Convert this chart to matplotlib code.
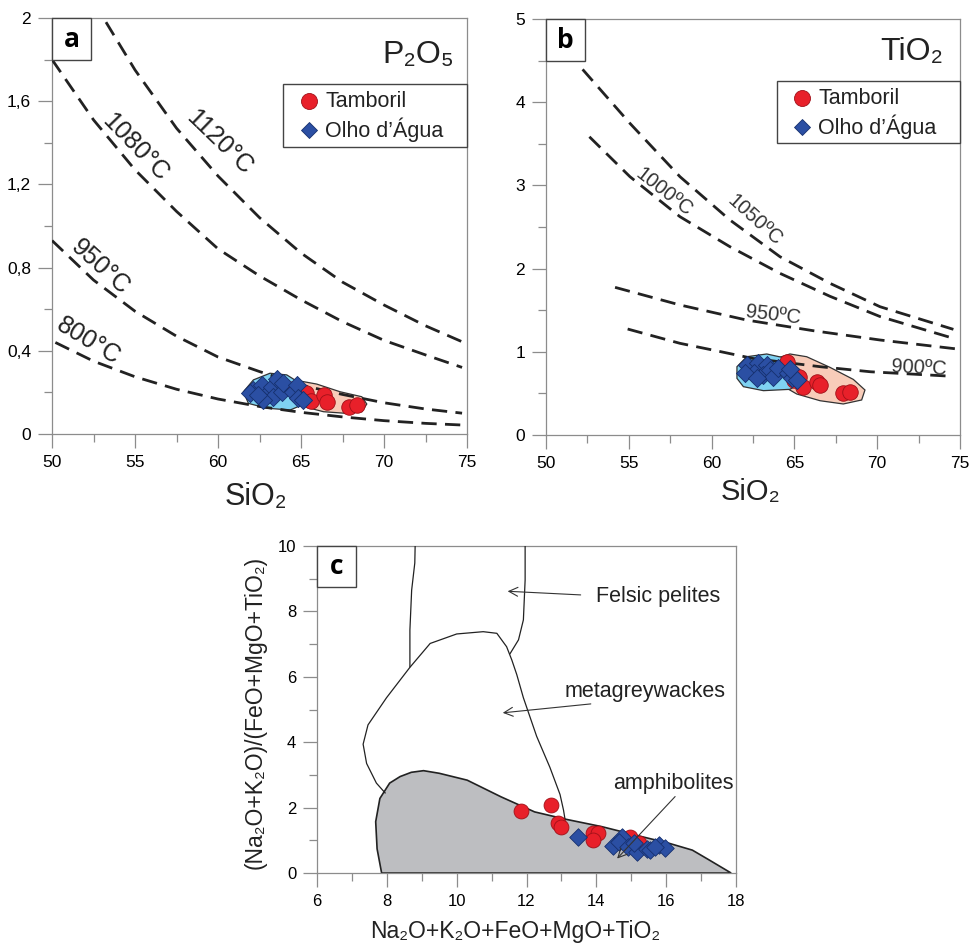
import matplotlib.pyplot as plt
from matplotlib.patches import Polygon, Rectangle
from matplotlib.lines import Line2D

plt.rcParams['font.family'] = ['Liberation Sans', 'DejaVu Sans']

# ---- panel a: P2O5 saturation isotherms ----
a_1120_x = [53.25, 55, 57.5, 60, 62.5, 65, 67.5, 70, 72.5, 74.8]
a_1120_y = [1.98, 1.75, 1.47, 1.24, 1.04, 0.87, 0.73, 0.62, 0.52, 0.44]
a_1080_x = [50, 52.5, 55, 57.5, 60, 62.5, 65, 67.5, 70, 72.5, 74.7]
a_1080_y = [1.80, 1.51, 1.27, 1.07, 0.89, 0.76, 0.645, 0.54, 0.45, 0.38, 0.32]
a_950_x = [50, 52.5, 55, 57.5, 60, 62.5, 65, 67.5, 70, 72.5, 74.7]
a_950_y = [0.93, 0.74, 0.59, 0.47, 0.37, 0.30, 0.235, 0.19, 0.15, 0.12, 0.10]
a_800_x = [50.2, 52.5, 55, 57.5, 60, 62.5, 65, 67.5, 70, 72.5, 74.7]
a_800_y = [0.44, 0.35, 0.275, 0.215, 0.168, 0.132, 0.104, 0.082, 0.064, 0.051, 0.043]

a_tam_x = [63.84, 64.54, 65.30, 65.58, 66.40, 66.55, 67.89, 68.35]
a_tam_y = [0.236, 0.215, 0.199, 0.160, 0.188, 0.156, 0.131, 0.138]
a_olho_x = [62.13, 62.63, 62.89, 63.23, 63.53, 63.33, 63.84, 63.94, 62.73,
            64.54, 64.74, 64.84, 65.14, 61.93, 62.43]
a_olho_y = [0.212, 0.236, 0.188, 0.228, 0.263, 0.179, 0.203, 0.244, 0.163,
            0.203, 0.236, 0.171, 0.163, 0.196, 0.188]

a_blue_field = [(61.53, 0.203), (62.13, 0.26), (63.13, 0.292), (64.14, 0.284),
                (64.94, 0.244), (65.14, 0.196), (65.04, 0.139), (64.34, 0.115),
                (62.93, 0.124), (61.83, 0.147)]
a_red_field = [(64.84, 0.256), (65.94, 0.240), (67.35, 0.203), (68.66, 0.179),
               (68.96, 0.144), (68.66, 0.107), (67.75, 0.099), (66.35, 0.107),
               (65.34, 0.128), (64.54, 0.179)]

# ---- panel b: TiO2 saturation isotherms ----
b_1050_x = [52.21, 55.07, 58.09, 61.11, 64.13, 67.15, 70.17, 74.60]
b_1050_y = [4.395, 3.746, 3.105, 2.584, 2.143, 1.823, 1.542, 1.270]
b_1000_x = [52.62, 55.07, 58.09, 61.11, 64.13, 67.15, 70.17, 74.60]
b_1000_y = [3.585, 3.105, 2.624, 2.263, 1.943, 1.667, 1.424, 1.162]
b_950_x = [54.17, 58.09, 62.11, 66.13, 70.17, 75.0]
b_950_y = [1.775, 1.563, 1.382, 1.254, 1.142, 1.030]
b_900_x = [54.93, 58.09, 60.35, 62.5, 66.6, 69.6, 74.6]
b_900_y = [1.274, 1.102, 1.01, 0.92, 0.82, 0.76, 0.705]

b_tam_x = [64.54, 65.30, 65.54, 66.38, 66.55, 67.91, 68.36, 65.0]
b_tam_y = [0.881, 0.701, 0.581, 0.641, 0.601, 0.500, 0.521, 0.661]
b_olho_x = [62.12, 62.83, 63.33, 62.53, 62.02, 63.13, 63.53, 63.73, 64.03,
            64.64, 64.84, 65.18, 64.73, 62.73]
b_olho_y = [0.841, 0.862, 0.841, 0.741, 0.741, 0.721, 0.781, 0.701, 0.801,
            0.741, 0.681, 0.661, 0.789, 0.681]

b_blue_field = [(61.53, 0.821), (62.12, 0.941), (63.33, 0.974), (64.54, 0.921),
                (65.34, 0.781), (65.34, 0.621), (64.73, 0.549), (63.13, 0.533),
                (61.92, 0.581), (61.53, 0.681)]
b_red_field = [(63.93, 0.921), (64.73, 0.974), (65.74, 0.941), (67.15, 0.813),
               (68.56, 0.668), (69.26, 0.541), (69.06, 0.421), (67.95, 0.373),
               (66.55, 0.412), (65.14, 0.493), (64.03, 0.621)]

# ---- panel c: discrimination fields ----
felsic_left = [(8.81, 10.0), (8.80, 9.48), (8.71, 8.65), (8.66, 7.43), (8.66, 6.31)]
felsic_right = [(11.96, 10.0), (11.96, 8.96), (11.91, 7.74), (11.77, 7.13), (11.53, 6.71)]
metagrey = [(7.95, 2.45), (7.70, 2.75), (7.42, 3.35), (7.32, 3.94), (7.46, 4.53),
            (7.99, 5.36), (8.66, 6.29), (9.24, 7.02), (10.0, 7.31), (10.76, 7.38),
            (11.15, 7.33), (11.43, 6.92), (11.58, 6.51), (11.72, 6.07), (11.91, 5.36),
            (12.29, 4.18), (12.67, 3.23), (12.96, 2.40), (13.06, 1.92), (13.10, 1.66)]
amphib = [(7.85, 0.0), (7.72, 0.74), (7.68, 1.57), (7.80, 2.28), (8.08, 2.75),
          (8.38, 2.95), (8.70, 3.08), (9.05, 3.13), (9.50, 3.05), (10.3, 2.84),
          (11.27, 2.33), (12.23, 1.87), (13.1, 1.65), (14.15, 1.42), (15.12, 1.16),
          (16.08, 0.91), (16.75, 0.70), (17.23, 0.40), (17.86, 0.0)]

c_tam_x = [11.84, 12.71, 12.90, 12.98, 13.91, 14.06, 13.91, 14.97, 15.21]
c_tam_y = [1.90, 2.07, 1.52, 1.40, 1.21, 1.21, 1.01, 1.11, 0.91]
c_olho_x = [13.48, 14.49, 14.73, 14.64, 14.92, 15.16, 15.45, 15.55, 15.79, 15.98,
            15.69, 15.07]
c_olho_y = [1.09, 0.83, 1.09, 0.96, 0.80, 0.65, 0.72, 0.70, 0.86, 0.76, 0.80, 0.91]

legend_labels = ['Tamboril', 'Olho d\u2019\u00c1gua']

RED = '#e8202a'
RED_E = '#a01018'
BLUE = '#2b4fa3'
BLUE_E = '#16306e'
LIGHTBLUE = '#7fd2f2'
PEACH = '#f8ccb9'
GRAY = '#8c8c8c'
DASH = (0, (5.5, 3.0))


def style_axes(ax):
    for s in ax.spines.values():
        s.set_color(GRAY)
        s.set_linewidth(0.9)
    ax.tick_params(which='major', direction='out', length=10, width=0.9,
                   color=GRAY, labelsize=12.5, pad=5)
    ax.tick_params(which='minor', direction='out', length=5.5, width=0.9,
                   color=GRAY)


def panel_box(ax, letter, w, h):
    ax.add_patch(Rectangle((0, 1 - h), w, h, transform=ax.transAxes,
                           facecolor='white', edgecolor='#444444', lw=1.0,
                           zorder=6, clip_on=False))
    ax.text(w / 2, 1 - h / 2, letter, transform=ax.transAxes, ha='center',
            va='center', fontsize=19, fontweight='bold',
            family=['Open Sans', 'DejaVu Sans'], zorder=7)


def draw_legend(ax, x0, y0, y1, mx, my):
    # framed key box in axes coordinates
    ax.add_patch(Rectangle((x0, y0), 1.0 - x0, y1 - y0, transform=ax.transAxes,
                           facecolor='white', edgecolor='#444444', lw=1.0,
                           zorder=8, clip_on=False))
    ax.plot([mx], [my[0]], transform=ax.transAxes, ls='none', marker='o', ms=11.5,
            mfc=RED, mec=RED_E, mew=0.6, zorder=9, clip_on=False)
    ax.plot([mx], [my[1]], transform=ax.transAxes, ls='none', marker='D', ms=8.5,
            mfc=BLUE, mec=BLUE_E, mew=0.6, zorder=9, clip_on=False)
    for yy, lab in zip(my, legend_labels):
        ax.text(mx + 0.039, yy, lab, transform=ax.transAxes, fontsize=15.5,
                ha='left', va='center', color='#222222', zorder=9)


fig = plt.figure(figsize=(9.71, 9.43), dpi=100)

# ================= panel a =================
ax = fig.add_axes([0.0536, 0.5398, 0.4274, 0.4411])
style_axes(ax)
ax.set_xlim(50, 75)
ax.set_ylim(0, 2)
ax.set_xticks([50, 55, 60, 65, 70, 75])
ax.set_xticks([52.5, 57.5, 62.5, 67.5, 72.5], minor=True)
ax.set_yticks([0, 0.4, 0.8, 1.2, 1.6, 2.0])
ax.set_yticklabels(['0', '0,4', '0,8', '1,2', '1,6', '2'])
ax.set_yticks([0.2, 0.6, 1.0, 1.4, 1.8], minor=True)

ax.add_patch(Polygon(a_red_field, closed=True, fc=PEACH, ec='#333333', lw=0.9, zorder=2))
ax.add_patch(Polygon(a_blue_field, closed=True, fc=LIGHTBLUE, ec='#333333', lw=0.9, zorder=2.5))
for xs, ys in [(a_1120_x, a_1120_y), (a_1080_x, a_1080_y), (a_950_x, a_950_y), (a_800_x, a_800_y)]:
    ax.plot(xs, ys, color='#222222', lw=2.0, ls=DASH, zorder=3)
ax.scatter(a_tam_x, a_tam_y, s=125, marker='o', c=RED, edgecolors=RED_E, linewidths=0.6, zorder=4)
ax.scatter(a_olho_x, a_olho_y, s=85, marker='D', c=BLUE, edgecolors=BLUE_E, linewidths=0.6, zorder=5)

lab_kw = dict(fontsize=18, color='#222222', ha='center', va='center', rotation_mode='anchor')
ax.text(60.1, 1.40, '1120°C', rotation=-44, **lab_kw)
ax.text(55.0, 1.38, '1080°C', rotation=-46, **lab_kw)
ax.text(52.9, 0.80, '950°C', rotation=-42, **lab_kw)
ax.text(52.2, 0.445, '800°C', rotation=-31, **lab_kw)

ax.text(0.882, 0.911, 'P\u2082O\u2085', transform=ax.transAxes, fontsize=23,
        ha='center', va='center', color='#222222')
ax.text(0.49, -0.151, 'SiO\u2082', transform=ax.transAxes, fontsize=22,
        ha='center', va='center', color='#222222')
draw_legend(ax, 0.557, 0.690, 0.841, 0.619, [0.800, 0.731])
panel_box(ax, 'a', 0.094, 0.101)

# ================= panel b =================
ax = fig.add_axes([0.5623, 0.5387, 0.4264, 0.4411])
style_axes(ax)
ax.set_xlim(50, 75)
ax.set_ylim(0, 5)
ax.set_xticks([50, 55, 60, 65, 70, 75])
ax.set_xticks([52.5, 57.5, 62.5, 67.5, 72.5], minor=True)
ax.set_yticks([0, 1, 2, 3, 4, 5])
ax.set_yticks([0.5, 1.5, 2.5, 3.5, 4.5], minor=True)

ax.add_patch(Polygon(b_red_field, closed=True, fc=PEACH, ec='#333333', lw=0.9, zorder=2))
ax.add_patch(Polygon(b_blue_field, closed=True, fc=LIGHTBLUE, ec='#333333', lw=0.9, zorder=2.5))
for xs, ys in [(b_1050_x, b_1050_y), (b_1000_x, b_1000_y), (b_950_x, b_950_y), (b_900_x, b_900_y)]:
    ax.plot(xs, ys, color='#222222', lw=2.0, ls=DASH, zorder=3)
ax.scatter(b_tam_x, b_tam_y, s=125, marker='o', c=RED, edgecolors=RED_E, linewidths=0.6, zorder=4)
ax.scatter(b_olho_x, b_olho_y, s=85, marker='D', c=BLUE, edgecolors=BLUE_E, linewidths=0.6, zorder=5)

lab_kw = dict(fontsize=14.5, color='#333333', ha='center', va='center', rotation_mode='anchor')
ax.text(62.6, 2.58, '1050ºC', rotation=-42, **lab_kw)
ax.text(57.1, 2.92, '1000ºC', rotation=-38, **lab_kw)
ax.text(63.7, 1.44, '950ºC', rotation=-7, **lab_kw)
ax.text(72.5, 0.80, '900ºC', rotation=-3, **lab_kw)

ax.text(0.884, 0.921, 'TiO\u2082', transform=ax.transAxes, fontsize=23,
        ha='center', va='center', color='#222222')
ax.text(0.495, -0.137, 'SiO\u2082', transform=ax.transAxes, fontsize=21,
        ha='center', va='center', color='#222222')
draw_legend(ax, 0.558, 0.702, 0.851, 0.618, [0.810, 0.740])
panel_box(ax, 'b', 0.094, 0.101)

# ================= panel c =================
ax = fig.add_axes([0.3265, 0.0742, 0.4315, 0.3468])
style_axes(ax)
ax.tick_params(which='major', labelsize=12)
ax.set_xlim(6, 18)
ax.set_ylim(0, 10)
ax.set_xticks([6, 8, 10, 12, 14, 16, 18])
ax.set_xticks([7, 9, 11, 13, 15, 17], minor=True)
ax.set_yticks([0, 2, 4, 6, 8, 10])
ax.set_yticks([1, 3, 5, 7, 9], minor=True)

ax.add_patch(Polygon(amphib, closed=True, fc='#bdbec1', ec='#222222', lw=1.2, zorder=2))
ax.plot(*zip(*felsic_left), color='#222222', lw=0.9, zorder=3)
ax.plot(*zip(*felsic_right), color='#222222', lw=0.9, zorder=3)
ax.plot(*zip(*metagrey), color='#222222', lw=0.9, zorder=3)
ax.scatter(c_tam_x, c_tam_y, s=115, marker='o', c=RED, edgecolors=RED_E, linewidths=0.6, zorder=4)
ax.scatter(c_olho_x, c_olho_y, s=80, marker='D', c=BLUE, edgecolors=BLUE_E, linewidths=0.6, zorder=5)

arr = dict(arrowstyle='->', lw=0.8, color='#333333', mutation_scale=16)
ax.annotate('', xy=(11.38, 8.62), xytext=(13.63, 8.50), arrowprops=arr, zorder=6)
ax.annotate('', xy=(11.24, 4.89), xytext=(13.92, 5.18), arrowprops=arr, zorder=6)
ax.annotate('', xy=(14.54, 0.38), xytext=(16.31, 2.40), arrowprops=arr, zorder=6)
ax.text(15.77, 8.45, 'Felsic pelites', fontsize=15.5, ha='center', va='center', color='#222222')
ax.text(15.40, 5.54, 'metagreywackes', fontsize=15.5, ha='center', va='center', color='#222222')
ax.text(16.20, 2.75, 'amphibolites', fontsize=15.5, ha='center', va='center', color='#222222')

ax.text(-0.148, 0.49, '(Na\u2082O+K\u2082O)/(FeO+MgO+TiO\u2082)', transform=ax.transAxes,
        rotation=90, fontsize=16.5, ha='center', va='center', color='#222222')
ax.text(0.473, -0.178, 'Na\u2082O+K\u2082O+FeO+MgO+TiO\u2082', transform=ax.transAxes,
        fontsize=16.5, ha='center', va='center', color='#222222')
panel_box(ax, 'c', 0.093, 0.125)

fig.savefig('out.png', dpi=100)
